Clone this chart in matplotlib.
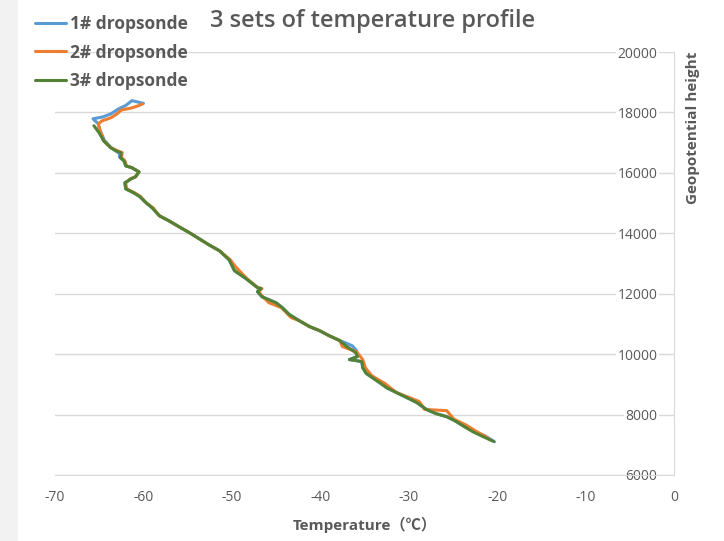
import matplotlib
matplotlib.use("Agg")
import matplotlib.pyplot as plt
from matplotlib.patches import Rectangle

plt.rcParams['font.family'] = ['Open Sans', 'Noto Sans CJK SC', 'DejaVu Sans']
plt.rcParams['axes.unicode_minus'] = False

# --- Data: temperature (degC) vs geopotential height (m) ---
t1 = [-60.0, -61.3, -62.0, -62.8, -63.7, -64.6, -65.7, -65.1, -64.9, -64.4,
      -63.6, -63.1, -62.7, -62.7, -62.2, -62.0, -61.3, -60.5, -60.9, -61.4,
      -62.1, -62.0, -61.1, -60.4, -59.7, -59.0, -58.2, -57.1, -56.0, -54.8,
      -53.7, -52.6, -51.4, -50.3, -49.7, -48.4, -47.1, -46.7, -47.1, -46.6,
      -45.0, -44.3, -43.5, -42.4, -41.2, -40.1, -39.0, -37.8, -36.4, -35.9,
      -35.8, -36.7, -36.0, -35.3, -35.2, -34.8, -34.1, -33.3, -32.5, -31.4,
      -30.2, -29.1, -28.0, -26.9, -25.7, -24.8, -23.7, -22.6, -21.4, -20.3]
h1 = [18300, 18390, 18230, 18120, 17950, 17850, 17790, 17620, 17400, 17070,
      16820, 16720, 16640, 16520, 16400, 16230, 16170, 16030, 15870, 15800,
      15670, 15470, 15340, 15210, 15010, 14840, 14580, 14410, 14220, 14020,
      13820, 13620, 13420, 13120, 12760, 12500, 12200, 12170, 12070, 11900,
      11700, 11540, 11310, 11110, 10910, 10780, 10610, 10450, 10280, 10120,
      9920, 9820, 9790, 9750, 9550, 9360, 9220, 9060, 8890, 8730,
      8560, 8400, 8170, 8030, 7930, 7800, 7600, 7440, 7300, 7100]

t2 = [-60.1, -60.6, -61.3, -62.5, -63.0, -63.7, -64.7, -65.1, -65.0, -64.5,
      -63.7, -63.0, -62.4, -62.5, -62.1, -61.9, -61.3, -60.5, -60.9, -61.5,
      -62.0, -61.9, -61.0, -60.3, -59.7, -58.9, -58.2, -57.1, -56.0, -54.8,
      -53.7, -52.6, -51.4, -50.2, -49.6, -48.3, -47.1, -46.6, -47.0, -46.5,
      -45.8, -44.4, -43.3, -42.4, -41.2, -40.1, -39.0, -37.8, -37.5, -35.9,
      -35.2, -34.9, -34.2, -32.7, -31.4, -29.9, -28.8, -28.2, -25.7, -24.9,
      -23.5, -22.5, -21.0]
h2 = [18280, 18220, 18150, 18080, 17950, 17820, 17720, 17620, 17490, 17060,
      16840, 16740, 16670, 16510, 16400, 16230, 16170, 16030, 15870, 15800,
      15670, 15470, 15340, 15210, 15010, 14840, 14580, 14410, 14220, 14020,
      13820, 13620, 13420, 13130, 12900, 12500, 12210, 12170, 12070, 11900,
      11700, 11540, 11210, 11110, 10910, 10780, 10610, 10450, 10250, 10080,
      9820, 9550, 9290, 9030, 8730, 8560, 8430, 8170, 8130, 7850,
      7650, 7470, 7220]

t3 = [-65.6, -65.0, -64.5, -63.7, -63.1, -62.5, -62.6, -62.2, -62.0, -61.3,
      -60.5, -60.9, -61.4, -62.1, -62.0, -61.1, -60.4, -59.7, -59.0, -58.2,
      -57.1, -56.0, -54.8, -53.7, -52.6, -51.4, -50.3, -49.7, -48.4, -47.1,
      -46.7, -47.1, -46.6, -45.0, -44.3, -43.5, -42.4, -41.2, -40.1, -39.0,
      -37.8, -37.0, -36.0, -35.8, -36.7, -36.0, -35.3, -35.2, -34.8, -34.1,
      -33.3, -32.5, -31.4, -30.2, -29.1, -28.0, -26.9, -25.7, -24.8, -23.7,
      -22.8, -21.6, -20.4]
h3 = [17560, 17320, 17060, 16830, 16730, 16660, 16500, 16400, 16230, 16170,
      16030, 15870, 15800, 15670, 15470, 15340, 15210, 15010, 14840, 14580,
      14410, 14220, 14020, 13820, 13620, 13420, 13120, 12760, 12500, 12200,
      12170, 12070, 11900, 11700, 11540, 11310, 11110, 10910, 10780, 10610,
      10450, 10250, 10050, 9920, 9820, 9790, 9750, 9550, 9360, 9220,
      9060, 8890, 8730, 8560, 8400, 8170, 8030, 7930, 7800, 7600,
      7440, 7270, 7110]

labels = ['1# dropsonde', '2# dropsonde', '3# dropsonde']
colors = ['#5B9BD5', '#ED7D31', '#548235']
xticks = [-70, -60, -50, -40, -30, -20, -10, 0]
yticks = [6000, 8000, 10000, 12000, 14000, 16000, 18000, 20000]

TXT = '#595959'
GRID = '#d9d9d9'

fig = plt.figure(figsize=(7.24, 5.41), dpi=100)
fig.patches.append(Rectangle((0, 0), 18 / 724, 1, transform=fig.transFigure,
                             facecolor='#f2f2f2', edgecolor='none', zorder=-1))

ax = fig.add_axes([55 / 724, 1 - 475 / 541, 619 / 724, 423 / 541])

for t, h, c, lab in zip([t1, t2, t3], [h1, h2, h3], colors, labels):
    ax.plot(t, h, color=c, lw=2.2, label=lab, solid_joinstyle='round',
            solid_capstyle='round')

ax.set_xlim(-70, 0)
ax.set_ylim(6000, 20000)
ax.set_xticks(xticks)
ax.set_yticks(yticks)

# vertical axis crosses at x = 0, labels sit to its left
ax.spines['left'].set_position(('data', 0))
ax.spines['left'].set_color(GRID)
ax.spines['bottom'].set_color(GRID)
ax.spines['right'].set_visible(False)
ax.spines['top'].set_visible(False)
ax.grid(axis='y', color=GRID, lw=1)
ax.set_axisbelow(True)

ax.tick_params(axis='x', length=0, pad=11, labelsize=10, labelcolor=TXT)
ax.tick_params(axis='y', length=0, pad=12, labelsize=10, labelcolor=TXT)
for lbl in ax.get_yticklabels():
    lbl.set_bbox(dict(facecolor='white', edgecolor='none', pad=1))

ax.set_xlabel('Temperature（℃）', fontsize=11, fontweight='bold', color=TXT,
              labelpad=8)
ax.yaxis.set_label_position('right')
ax.set_ylabel('Geopotential height', fontsize=11, fontweight='bold',
              color=TXT, loc='top')
ax.yaxis.set_label_coords(1.019, 1.0)

fig.text(0.515, 1 - 21 / 541, '3 sets of temperature profile', fontsize=17,
         fontweight='semibold', color=TXT, ha='center', va='center')

leg = ax.legend(loc='upper left', bbox_to_anchor=(23 / 724, 1 - 3 / 541),
                bbox_transform=fig.transFigure, frameon=False,
                prop={'size': 12.5, 'weight': 'bold'}, labelcolor=TXT,
                handlelength=1.8, handletextpad=0.2, labelspacing=0.6,
                borderpad=0.2)

fig.savefig('out.png', dpi=100)
